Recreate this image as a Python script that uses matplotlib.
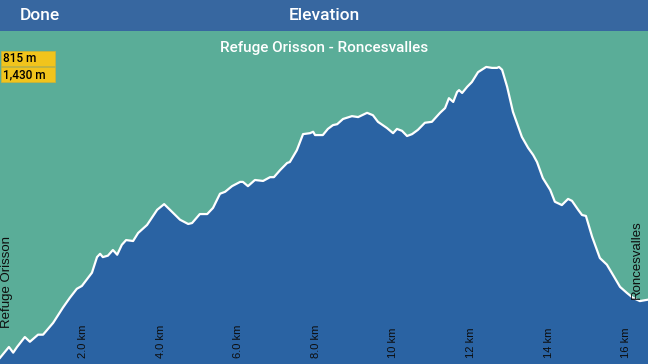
import matplotlib
matplotlib.use("Agg")
import matplotlib.pyplot as plt
from matplotlib.patches import Rectangle
from matplotlib.transforms import ScaledTranslation

# route profile, distance in km / elevation in m
dist = [0.00, 0.23, 0.34, 0.44, 0.64, 0.77, 0.98, 1.11, 1.37, 1.62, 1.80, 1.98,
        2.11, 2.37, 2.50, 2.58, 2.65, 2.78, 2.91, 3.02, 3.14, 3.25, 3.43, 3.56,
        3.79, 4.05, 4.23, 4.38, 4.64, 4.85, 4.95, 5.15, 5.34, 5.49, 5.67, 5.80,
        5.98, 6.19, 6.26, 6.39, 6.57, 6.78, 6.96, 7.06, 7.22, 7.40, 7.47, 7.65,
        7.81, 7.99, 8.07, 8.12, 8.32, 8.45, 8.58, 8.69, 8.84, 9.07, 9.23, 9.46,
        9.61, 9.74, 9.97, 10.13, 10.23, 10.36, 10.49, 10.62, 10.77, 10.95, 11.13,
        11.34, 11.47, 11.57, 11.68, 11.78, 11.83, 11.91, 12.04, 12.16, 12.32,
        12.53, 12.68, 12.81, 12.86, 12.94, 13.07, 13.22, 13.45, 13.61, 13.74,
        13.84, 13.99, 14.18, 14.30, 14.48, 14.64, 14.74, 14.90, 15.00, 15.10,
        15.26, 15.46, 15.64, 15.80, 15.98, 16.16, 16.31, 16.49, 16.70]
elev = [815, 838, 826, 838, 859, 849, 864, 864, 889, 921, 942, 961,
        967, 995, 1028, 1035, 1028, 1031, 1043, 1033, 1054, 1064, 1062, 1079,
        1096, 1128, 1140, 1128, 1107, 1098, 1100, 1119, 1119, 1132, 1162, 1166,
        1178, 1187, 1187, 1178, 1191, 1189, 1197, 1197, 1212, 1227, 1229, 1254,
        1288, 1290, 1293, 1286, 1286, 1299, 1307, 1309, 1320, 1326, 1324, 1333,
        1328, 1314, 1301, 1290, 1299, 1295, 1284, 1288, 1297, 1312, 1314,
        1333, 1343, 1364, 1356, 1377, 1381, 1375, 1388, 1398, 1419,
        1430, 1428, 1428, 1430, 1424, 1388, 1335, 1282, 1259, 1244,
        1229, 1195, 1170, 1145, 1138, 1151, 1147, 1128, 1117, 1115,
        1071, 1026, 1012, 990, 965, 952, 942, 935, 938]

ticks = [2, 4, 6, 8, 10, 12, 14, 16]
tick_labels = ["2.0 km", "4.0 km", "6.0 km", "8.0 km", "10 km", "12 km", "14 km", "16 km"]
min_label = "815 m"
max_label = "1,430 m"
start_name = "Refuge Orisson"
end_name = "Roncesvalles"

W, H = 648, 364
fig = plt.figure(figsize=(W / 100, H / 100), dpi=100)
fig.patch.set_facecolor("#5AAD98")


def fx(x):
    return x / W


def fy(y):
    return 1 - y / H


# header bar
fig.patches.append(Rectangle((0, fy(31)), 1, 31 / H, transform=fig.transFigure,
                             facecolor="#3767A0", edgecolor="none", zorder=0))
fig.text(fx(20), fy(15), "Done", color="white", fontsize=12.5, family="Roboto",
         weight="medium", ha="left", va="center")
fig.text(0.5, fy(15), "Elevation", color="white", fontsize=12.5, family="Roboto",
         weight="medium", ha="center", va="center")

ax = fig.add_axes([0, 0, 1, 1 - 31 / H])
ax.set_facecolor("#5AAD98")
ax.fill_between(dist, elev, 700, color="#2A63A3", linewidth=0)
ax.plot(dist, elev, color="white", lw=1.6, solid_joinstyle="round")
ax.set_xlim(0, 16.70)
ax.set_ylim(802, 1506)
ax.set_yticks([])
for s in ax.spines.values():
    s.set_visible(False)

ax.set_xticks(ticks)
ax.set_xticklabels(tick_labels, rotation=90, fontsize=8, family="Liberation Sans",
                   color="#0d0d0d")
ax.tick_params(axis="x", length=0, pad=-4.3)
shift = ScaledTranslation(5.4 / 100, 0, fig.dpi_scale_trans)
for lab in ax.get_xticklabels():
    lab.set_va("bottom")
    lab.set_transform(lab.get_transform() + shift)

fig.text(0.5, fy(48), "Refuge Orisson - Roncesvalles", color="white", fontsize=11,
         family="Roboto", weight="medium", ha="center", va="center")

# min / max boxes
for (top, txt) in [(51, min_label), (67, max_label)]:
    fig.patches.append(Rectangle((fx(1), fy(top + 15)), 54 / W, 15 / H,
                                 transform=fig.transFigure, facecolor="#F1C41C",
                                 edgecolor="#C8B43A", lw=0.6, zorder=3))
    fig.text(fx(3), fy(top + 7.5), txt, color="black", fontsize=8.5, family="Roboto",
             weight="medium", ha="left", va="center", zorder=4)

fig.text(fx(7), fy(328), start_name, rotation=90, fontsize=9.5,
         family="Liberation Sans", color="#0d0d0d", ha="center", va="bottom")
fig.text(fx(637), fy(299), end_name, rotation=90, fontsize=9.5,
         family="Liberation Sans", color="#0d0d0d", ha="center", va="bottom")

fig.savefig("out.png", dpi=100)
